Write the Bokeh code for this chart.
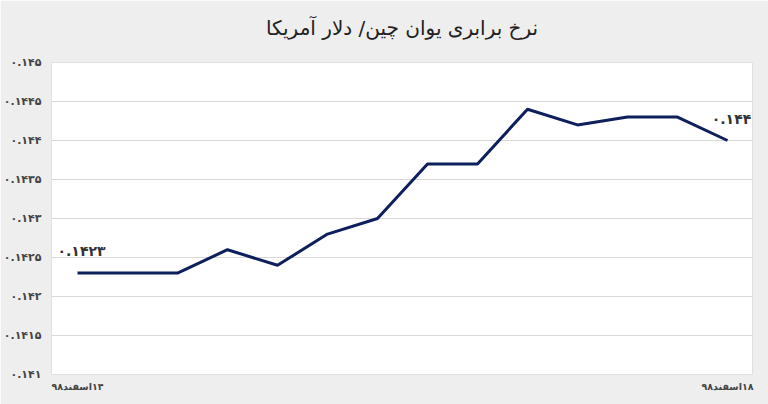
from bokeh.plotting import figure
from bokeh.models import FixedTicker, Range1d, ColumnDataSource, Title
from bokeh.core.properties import value
from bokeh.embed import file_html
from bokeh.resources import INLINE

title_text = "نرخ برابری یوان چین/ دلار آمریکا"
idx = list(range(14))
rate = [0.1423, 0.1423, 0.1423, 0.1426, 0.1424, 0.1428, 0.1430,
        0.1437, 0.1437, 0.1444, 0.1442, 0.1443, 0.1443, 0.1440]
y_ticks = [0.141, 0.1415, 0.142, 0.1425, 0.143, 0.1435, 0.144, 0.1445, 0.145]
y_tick_labels = ["۰.۱۴۱", "۰.۱۴۱۵", "۰.۱۴۲", "۰.۱۴۲۵", "۰.۱۴۳",
                 "۰.۱۴۳۵", "۰.۱۴۴", "۰.۱۴۴۵", "۰.۱۴۵"]
x_ticks = [0, 13]
x_tick_labels = ["۱۴اسفند۹۸", "۱۸اسفند۹۸"]
ann_idx = [0, 13]
ann_text = ["۰.۱۴۲۳", "۰.۱۴۴"]

FONT = "DejaVu Sans"
BG = "#eeeeee"
RLE, PDF = "\u202B", "\u202C"

p = figure(width=768, height=404, output_backend="svg", toolbar_location=None,
           x_range=Range1d(-0.52, 13.5), y_range=Range1d(0.141, 0.145),
           min_border_left=48, min_border_right=16, min_border_top=62,
           min_border_bottom=30)
p.background_fill_color = "white"
p.border_fill_color = BG
p.outline_line_color = "#e0e0e0"

# spacer title (nearest to the frame) pushes the real title upward
p.add_layout(Title(text=" ", text_font_size="8px", standoff=0), "above")
p.title.text = title_text
p.title.align = "center"
p.title.text_font = FONT
p.title.text_font_size = "20px"
p.title.text_font_style = "normal"
p.title.text_color = "#222222"
p.title.standoff = 24

p.line(idx, rate, line_color="#0d1f5c", line_width=3)

src = ColumnDataSource(dict(x=ann_idx, y=[rate[i] for i in ann_idx], t=ann_text))
p.text(x="x", y="y", text="t", source=src, text_font=value(FONT),
       text_font_size="14px", text_font_style="bold", text_color="#333333",
       text_align="center", text_baseline="middle", x_offset=4, y_offset=-22)

p.yaxis.ticker = FixedTicker(ticks=y_ticks)
p.yaxis.major_label_overrides = {t: l for t, l in zip(y_ticks, y_tick_labels)}
p.xaxis.ticker = FixedTicker(ticks=x_ticks)
p.xaxis.major_label_overrides = {t: RLE + l + PDF for t, l in zip(x_ticks, x_tick_labels)}
for ax in (p.xaxis[0], p.yaxis[0]):
    ax.axis_line_color = None
    ax.major_tick_line_color = None
    ax.minor_tick_line_color = None
    ax.major_tick_out = 0
    ax.major_tick_in = 0
    ax.minor_tick_out = 0
    ax.minor_tick_in = 0
    ax.major_label_text_font = FONT
    ax.major_label_text_color = "#444444"
    ax.major_label_text_font_style = "bold"
p.yaxis.major_label_text_font_size = "11px"
p.yaxis.major_label_standoff = 10
p.xaxis.major_label_text_font_size = "9.5px"
p.xaxis.major_label_standoff = 6

p.xgrid.grid_line_color = None
p.ygrid.grid_line_color = "#d9d9d9"
p.ygrid.grid_line_width = 1

html = file_html(p, INLINE)
html = html.replace("<body>", '<body style="background-color:#eeeeee;">', 1)
open("out.html", "w").write(html)
